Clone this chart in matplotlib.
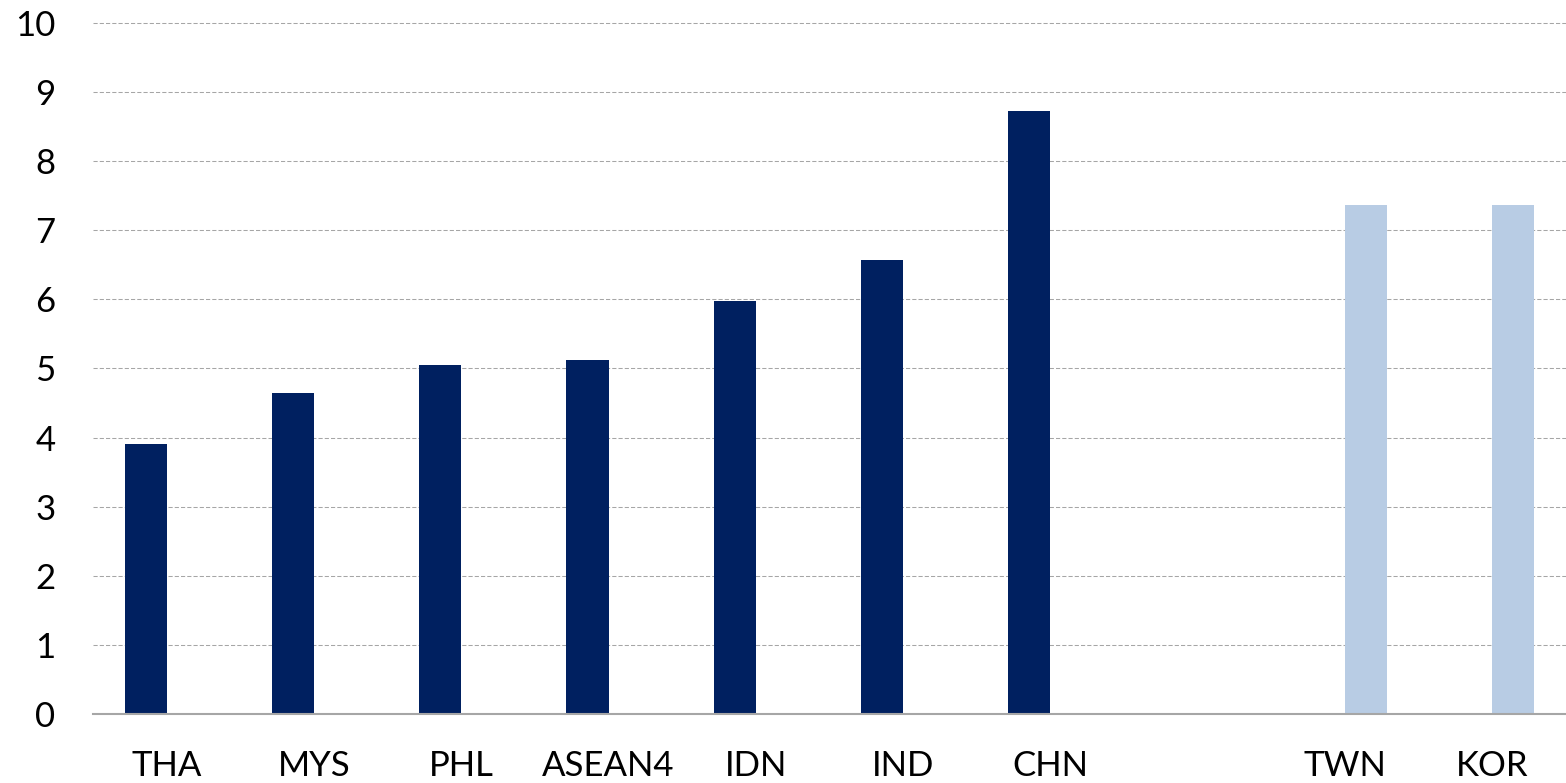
import numpy as np
import matplotlib.pyplot as plt

# categories (empty slot separates the two groups)
categories = ["THA", "MYS", "PHL", "ASEAN4", "IDN", "IND", "CHN", "", "TWN", "KOR"]
emerging = [3.91, 4.65, 5.05, 5.12, 5.98, 6.57, 8.73, np.nan, np.nan, np.nan]
advanced = [np.nan, np.nan, np.nan, np.nan, np.nan, np.nan, np.nan, np.nan, 7.37, 7.37]
yticks = [0, 1, 2, 3, 4, 5, 6, 7, 8, 9, 10]

plt.rcParams['font.family'] = ['Lato', 'DejaVu Sans']

fig = plt.figure(figsize=(15.66, 7.83), dpi=100)
ax = fig.add_axes([93 / 1566, 69 / 783, 1 - 93 / 1566, (714 - 23) / 783])

x = np.arange(len(categories))
w = 1 / 3.5  # gap width 150%
ax.bar(x - w / 2, emerging, width=w, color="#002060", zorder=3)
ax.bar(x + w / 2, advanced, width=w, color="#B8CCE4", zorder=3)

ax.set_xlim(-0.5, len(categories) - 0.5)
ax.set_ylim(0, 10)
ax.set_yticks(yticks)
ax.set_xticks(x)
ax.set_xticklabels(categories)

# dashed horizontal gridlines, solid base line
for y in yticks[1:]:
    ax.axhline(y, color="#a6a6a6", lw=0.75, ls=(0, (4, 2)), zorder=1, clip_on=False)
for s in ["top", "right", "left"]:
    ax.spines[s].set_visible(False)
ax.spines["bottom"].set_color("#a6a6a6")
ax.spines["bottom"].set_linewidth(1.5)
ax.spines["bottom"].set_zorder(4)

ax.tick_params(axis="both", length=0, labelsize=25, colors="black")
ax.tick_params(axis="y", pad=27)
ax.tick_params(axis="x", pad=26)

fig.savefig("out.png", dpi=100)
